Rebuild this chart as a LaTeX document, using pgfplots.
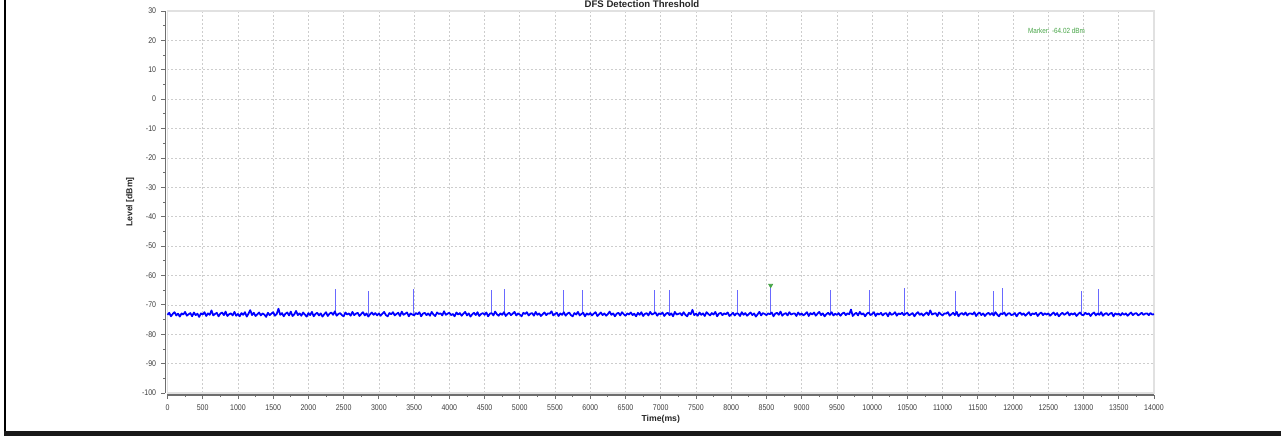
\documentclass[border=0pt]{standalone}
\usepackage{fontspec}
\setmainfont{Liberation Sans}
\newfontfamily\narrowfont{Liberation Sans}[FakeStretch=0.85]
\usepackage{pgfplots}
\pgfplotsset{compat=1.18}
\definecolor{markergreen}{RGB}{70,165,70}
\definecolor{axisgray}{RGB}{110,110,110}
\definecolor{gridgray}{RGB}{205,205,205}
\definecolor{framegray}{RGB}{225,225,225}
\definecolor{spikeblue}{RGB}{105,105,255}
\begin{document}
\begin{tikzpicture}
\useasboundingbox (0,0) rectangle (960.75pt,327pt);
\fill[white] (0,0) rectangle (960.75pt,327pt);
\begin{axis}[
  at={(125.6pt,32.25pt)}, anchor=south west,
  width=739.9pt, height=286.5pt, scale only axis,
  xmin=0, xmax=14000, ymin=-100, ymax=30,
  scaled x ticks=false, scaled y ticks=false,
  xtick={0,500,...,14000}, ytick={-100,-90,...,30},
  xticklabels={0,500,1000,1500,2000,2500,3000,3500,4000,4500,5000,5500,6000,6500,7000,7500,8000,8500,9000,9500,10000,10500,11000,11500,12000,12500,13000,13500,14000},
  yticklabels={-100,-90,-80,-70,-60,-50,-40,-30,-20,-10,0,10,20,30},
  minor x tick num=1, minor y tick num=1,
  axis lines*=left,
  axis x line shift=1.5pt, axis y line shift=1.5pt,
  axis line style={-, draw=axisgray, line width=0.8pt},
  tick style={draw=axisgray, line width=0.6pt},
  tick align=outside,
  major tick length=3pt, minor tick length=1.5pt,
  xmajorgrids, ymajorgrids,
  major grid style={draw=gridgray, line width=0.5pt, dash pattern=on 1.5pt off 1.5pt},
  tick label style={font=\narrowfont\fontsize{6.2}{7}\selectfont, text=black!75},
  xticklabel style={yshift=-1pt},
  yticklabel style={xshift=-0.5pt},
  xlabel={Time(ms)}, ylabel={Level [dBm]},
  xlabel style={at={(axis description cs:0.5,-0.068)}, anchor=center, font=\bfseries\fontsize{6.5}{7}\selectfont, text=black!85},
  ylabel style={at={(axis description cs:-0.0378,0.5)}, anchor=center, font=\bfseries\fontsize{6.5}{7}\selectfont, text=black!85},
  clip=false,
  spike/.style={spikeblue, line width=0.8pt, forget plot},
]
\draw[framegray, line width=1pt] (rel axis cs:0,0) rectangle (rel axis cs:1,1);
\addplot[spike] coordinates {(2381,-73.2)(2381,-64.7)};
\addplot[spike] coordinates {(2849,-73.2)(2849,-65.3)};
\addplot[spike] coordinates {(3498,-73.2)(3498,-64.5)};
\addplot[spike] coordinates {(4601,-73.2)(4601,-64.8)};
\addplot[spike] coordinates {(4785,-73.2)(4785,-64.7)};
\addplot[spike] coordinates {(5617,-73.2)(5617,-64.8)};
\addplot[spike] coordinates {(5896,-73.2)(5896,-64.8)};
\addplot[spike] coordinates {(6908,-73.2)(6908,-64.8)};
\addplot[spike] coordinates {(7127,-73.2)(7127,-64.8)};
\addplot[spike] coordinates {(8091,-73.2)(8091,-64.8)};
\addplot[spike] coordinates {(8560,-73.2)(8560,-64.02)};
\addplot[spike] coordinates {(9415,-73.2)(9415,-64.8)};
\addplot[spike] coordinates {(9965,-73.2)(9965,-64.8)};
\addplot[spike] coordinates {(10456,-73.2)(10456,-64.4)};
\addplot[spike] coordinates {(11180,-73.2)(11180,-65.2)};
\addplot[spike] coordinates {(11724,-73.2)(11724,-65.2)};
\addplot[spike] coordinates {(11856,-73.2)(11856,-64.1)};
\addplot[spike] coordinates {(12973,-73.2)(12973,-65.2)};
\addplot[spike] coordinates {(13208,-73.2)(13208,-64.6)};
\addplot[blue, line width=1.3pt, line join=round] coordinates {
(0,-73.4)(25,-72.7)(50,-73.9)(75,-73.1)(100,-72.5)(125,-73.6)(150,-73.0)(175,-74.0)(200,-72.9)(225,-73.3)(250,-72.4)(275,-73.7)(300,-73.2)(325,-72.8)(350,-73.9)(375,-72.6)(400,-73.5)(425,-73.0)(450,-74.1)(475,-72.9)
(500,-73.3)(525,-72.5)(550,-73.8)(575,-72.9)(600,-73.4)(625,-71.9)(650,-73.6)(675,-73.1)(700,-72.7)(725,-73.9)(750,-73.0)(775,-72.6)(800,-73.5)(825,-72.3)(850,-73.8)(875,-73.2)(900,-72.9)(925,-73.6)(950,-72.4)(975,-73.7)
(1000,-73.1)(1025,-73.9)(1050,-72.8)(1075,-73.4)(1100,-72.5)(1125,-74.0)(1150,-73.0)(1175,-71.8)(1200,-73.5)(1225,-72.7)(1250,-73.8)(1275,-73.2)(1300,-72.6)(1325,-73.6)(1350,-72.9)(1375,-73.3)(1400,-74.1)(1425,-72.7)(1450,-73.5)(1475,-73.0)
(1500,-72.5)(1525,-73.7)(1550,-73.1)(1575,-71.3)(1600,-73.4)(1625,-72.8)(1650,-73.9)(1675,-73.0)(1700,-72.6)(1725,-73.6)(1750,-72.3)(1775,-73.8)(1800,-73.2)(1825,-72.1)(1850,-73.5)(1875,-72.9)(1900,-73.7)(1925,-72.6)(1950,-73.3)(1975,-74.0)
(2000,-72.8)(2025,-73.5)(2050,-72.4)(2075,-73.9)(2100,-73.1)(2125,-72.7)(2150,-73.6)(2175,-72.9)(2200,-74.0)(2225,-73.2)(2250,-72.5)(2275,-73.8)(2300,-73.0)(2325,-72.6)(2350,-73.4)(2375,-72.2)(2400,-73.7)(2425,-73.1)(2450,-72.8)(2475,-73.5)
(2500,-73.9)(2525,-72.6)(2550,-73.3)(2575,-72.9)(2600,-73.7)(2625,-72.4)(2650,-73.5)(2675,-73.0)(2700,-72.7)(2725,-73.8)(2750,-73.1)(2775,-72.5)(2800,-73.6)(2825,-72.9)(2850,-74.0)(2875,-73.2)(2900,-72.6)(2925,-73.4)(2950,-72.8)(2975,-73.6)
(3000,-72.9)(3025,-73.7)(3050,-73.0)(3075,-72.4)(3100,-73.5)(3125,-73.9)(3150,-72.8)(3175,-73.2)(3200,-72.5)(3225,-73.6)(3250,-73.1)(3275,-72.7)(3300,-73.8)(3325,-72.3)(3350,-73.4)(3375,-73.0)(3400,-72.6)(3425,-73.9)(3450,-72.9)(3475,-73.3)
(3500,-73.6)(3525,-72.8)(3550,-73.2)(3575,-72.5)(3600,-73.9)(3625,-73.0)(3650,-72.7)(3675,-73.5)(3700,-72.9)(3725,-73.7)(3750,-72.4)(3775,-73.3)(3800,-73.8)(3825,-72.6)(3850,-73.1)(3875,-72.9)(3900,-73.6)(3925,-72.2)(3950,-73.4)(3975,-73.0)
(4000,-72.7)(4025,-73.5)(4050,-73.1)(4075,-73.9)(4100,-72.6)(4125,-73.3)(4150,-72.8)(4175,-73.7)(4200,-73.0)(4225,-72.4)(4250,-73.6)(4275,-72.9)(4300,-74.0)(4325,-73.2)(4350,-72.7)(4375,-73.5)(4400,-72.5)(4425,-73.8)(4450,-73.1)(4475,-72.8)
(4500,-73.4)(4525,-72.6)(4550,-73.9)(4575,-73.0)(4600,-72.8)(4625,-73.6)(4650,-72.3)(4675,-73.2)(4700,-73.7)(4725,-72.9)(4750,-73.4)(4775,-72.5)(4800,-73.8)(4825,-73.1)(4850,-72.7)(4875,-73.5)(4900,-73.0)(4925,-72.4)(4950,-73.6)(4975,-72.9)
(5000,-73.3)(5025,-73.9)(5050,-72.7)(5075,-73.1)(5100,-72.5)(5125,-73.6)(5150,-73.0)(5175,-72.8)(5200,-73.7)(5225,-72.4)(5250,-73.4)(5275,-72.9)(5300,-73.8)(5325,-73.2)(5350,-72.6)(5375,-73.5)(5400,-72.9)(5425,-73.0)(5450,-72.2)(5475,-73.6)
(5500,-73.1)(5525,-72.7)(5550,-73.8)(5575,-72.9)(5600,-73.4)(5625,-72.5)(5650,-73.7)(5675,-73.0)(5700,-72.6)(5725,-73.5)(5750,-73.9)(5775,-72.8)(5800,-73.3)(5825,-72.4)(5850,-73.6)(5875,-73.1)(5900,-72.7)(5925,-73.9)(5950,-72.9)(5975,-73.4)
(6000,-72.8)(6025,-73.6)(6050,-73.0)(6075,-72.5)(6100,-73.8)(6125,-73.2)(6150,-72.6)(6175,-73.5)(6200,-72.9)(6225,-73.7)(6250,-73.1)(6275,-72.3)(6300,-73.4)(6325,-72.9)(6350,-73.9)(6375,-73.0)(6400,-72.7)(6425,-73.6)(6450,-72.5)(6475,-73.2)
(6500,-73.7)(6525,-72.9)(6550,-73.3)(6575,-72.6)(6600,-73.5)(6625,-73.0)(6650,-73.9)(6675,-72.7)(6700,-73.4)(6725,-72.5)(6750,-73.8)(6775,-73.1)(6800,-72.8)(6825,-73.6)(6850,-72.4)(6875,-73.3)(6900,-73.0)(6925,-72.6)(6950,-73.7)(6975,-72.9)
(7000,-73.2)(7025,-72.6)(7050,-73.8)(7075,-73.0)(7100,-72.7)(7125,-73.5)(7150,-72.9)(7175,-73.9)(7200,-72.4)(7225,-73.3)(7250,-73.1)(7275,-72.8)(7300,-73.6)(7325,-72.5)(7350,-73.4)(7375,-73.9)(7400,-72.7)(7425,-73.2)(7450,-71.7)(7475,-73.5)
(7500,-73.0)(7525,-73.7)(7550,-72.6)(7575,-73.4)(7600,-72.9)(7625,-73.8)(7650,-72.5)(7675,-73.1)(7700,-73.6)(7725,-72.8)(7750,-73.3)(7775,-72.4)(7800,-73.9)(7825,-73.0)(7850,-72.7)(7875,-73.5)(7900,-72.9)(7925,-73.2)(7950,-72.6)(7975,-73.8)
(8000,-73.3)(8025,-72.7)(8050,-73.6)(8075,-72.9)(8100,-73.0)(8125,-73.8)(8150,-72.5)(8175,-73.4)(8200,-72.8)(8225,-73.7)(8250,-73.1)(8275,-72.6)(8300,-73.5)(8325,-72.9)(8350,-74.0)(8375,-73.2)(8400,-72.4)(8425,-73.6)(8450,-72.8)(8475,-73.1)
(8500,-73.5)(8525,-72.9)(8550,-73.2)(8575,-72.6)(8600,-73.9)(8625,-73.0)(8650,-72.7)(8675,-73.4)(8700,-72.3)(8725,-73.7)(8750,-73.1)(8775,-72.8)(8800,-73.6)(8825,-72.5)(8850,-73.3)(8875,-73.0)(8900,-72.9)(8925,-73.8)(8950,-72.6)(8975,-73.4)
(9000,-72.9)(9025,-73.6)(9050,-73.1)(9075,-72.5)(9100,-73.8)(9125,-72.8)(9150,-73.3)(9175,-72.6)(9200,-73.7)(9225,-73.0)(9250,-72.4)(9275,-73.5)(9300,-72.9)(9325,-73.9)(9350,-73.2)(9375,-72.7)(9400,-73.4)(9425,-72.5)(9450,-73.6)(9475,-73.0)
(9500,-73.4)(9525,-72.8)(9550,-73.7)(9575,-73.0)(9600,-72.6)(9625,-73.5)(9650,-72.9)(9675,-73.2)(9700,-71.6)(9725,-73.8)(9750,-73.1)(9775,-72.7)(9800,-73.6)(9825,-72.4)(9850,-73.3)(9875,-72.9)(9900,-73.9)(9925,-73.0)(9950,-72.6)(9975,-73.5)
(10000,-73.1)(10025,-72.5)(10050,-73.8)(10075,-72.9)(10100,-73.3)(10125,-72.7)(10150,-73.6)(10175,-73.0)(10200,-72.8)(10225,-73.9)(10250,-72.6)(10275,-73.4)(10300,-73.1)(10325,-72.5)(10350,-73.7)(10375,-72.9)(10400,-73.2)(10425,-72.7)(10450,-73.5)(10475,-73.0)
(10500,-72.7)(10525,-73.6)(10550,-73.2)(10575,-72.8)(10600,-73.9)(10625,-73.0)(10650,-72.5)(10675,-73.4)(10700,-72.9)(10725,-73.7)(10750,-73.1)(10775,-72.6)(10800,-73.5)(10825,-71.9)(10850,-73.3)(10875,-73.0)(10900,-72.8)(10925,-73.8)(10950,-72.6)(10975,-73.2)
(11000,-73.6)(11025,-72.9)(11050,-73.0)(11075,-72.5)(11100,-73.7)(11125,-73.2)(11150,-72.7)(11175,-73.5)(11200,-72.4)(11225,-73.9)(11250,-73.1)(11275,-72.8)(11300,-73.4)(11325,-72.6)(11350,-73.6)(11375,-73.0)(11400,-72.9)(11425,-73.3)(11450,-72.5)(11475,-73.8)
(11500,-73.0)(11525,-72.6)(11550,-73.5)(11575,-72.9)(11600,-73.8)(11625,-73.1)(11650,-72.7)(11675,-73.4)(11700,-72.8)(11725,-73.6)(11750,-72.5)(11775,-73.3)(11800,-73.9)(11825,-72.9)(11850,-73.2)(11875,-72.6)(11900,-73.7)(11925,-73.0)(11950,-72.8)(11975,-73.5)
(12000,-73.3)(12025,-72.8)(12050,-73.9)(12075,-73.0)(12100,-72.6)(12125,-73.4)(12150,-72.9)(12175,-73.7)(12200,-73.1)(12225,-72.5)(12250,-73.6)(12275,-72.9)(12300,-73.2)(12325,-72.7)(12350,-73.8)(12375,-73.0)(12400,-72.6)(12425,-73.5)(12450,-72.9)(12475,-73.3)
(12500,-72.9)(12525,-73.7)(12550,-73.1)(12575,-72.6)(12600,-73.5)(12625,-72.8)(12650,-73.9)(12675,-73.2)(12700,-72.7)(12725,-73.4)(12750,-73.0)(12775,-72.5)(12800,-73.6)(12825,-72.9)(12850,-73.3)(12875,-72.8)(12900,-73.8)(12925,-73.1)(12950,-72.6)(12975,-73.4)
(13000,-73.5)(13025,-72.7)(13050,-73.2)(13075,-72.9)(13100,-73.8)(13125,-73.0)(13150,-72.6)(13175,-73.6)(13200,-72.9)(13225,-73.4)(13250,-72.5)(13275,-73.7)(13300,-73.1)(13325,-72.8)(13350,-73.5)(13375,-73.0)(13400,-72.7)(13425,-73.9)(13450,-72.9)(13475,-73.3)
(13500,-73.0)(13525,-73.6)(13550,-72.8)(13575,-73.4)(13600,-72.9)(13625,-73.7)(13650,-73.1)(13675,-72.6)(13700,-73.5)(13725,-73.0)(13750,-72.8)(13775,-73.6)(13800,-73.2)(13825,-72.7)(13850,-73.4)(13875,-73.0)(13900,-72.9)(13925,-73.5)(13950,-72.8)(13975,-73.3)
(14000,-73.2)
};
\addplot[only marks, mark=triangle*, mark size=1.8pt, mark options={rotate=180, fill=markergreen, draw=markergreen}] coordinates {(8560,-63.4)};
\end{axis}
\node[font=\bfseries\fontsize{7.2}{8}\selectfont, text=black!85] at (481.5pt,324pt) {DFS Detection Threshold};
\node[font=\narrowfont\fontsize{5.6}{6}\selectfont, text=markergreen] at (792.4pt,304pt) {Marker: -64.02 dBm};
\fill[black] (3pt,0) rectangle (4.5pt,327pt);
\fill[black!90] (3pt,0) rectangle (960.75pt,3.5pt);
\end{tikzpicture}
\end{document}
